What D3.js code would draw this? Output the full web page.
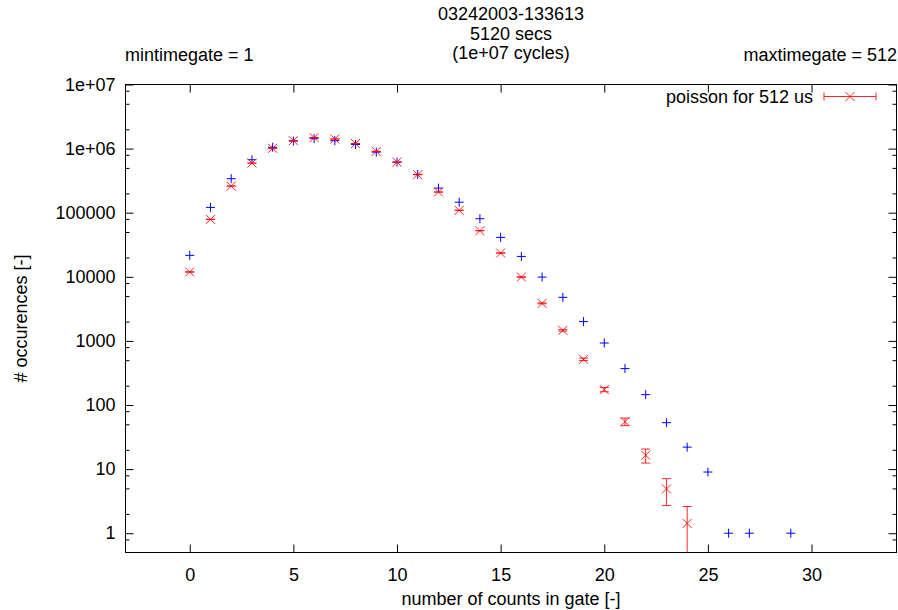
<!DOCTYPE html>
<html>
<head>
<meta charset="utf-8">
<script src="https://cdn.jsdelivr.net/npm/d3@7"></script>
<style>
  html, body { margin: 0; padding: 0; background: #fff; }
  svg { display: block; }
  text { font-family: "Liberation Sans", Arial, sans-serif; font-size: 18px; fill: #000; }
</style>
</head>
<body>
<svg id="chart" width="898" height="610"></svg>
<script>
// ---- data ----
const measuredCounts = [0,1,2,3,4,5,6,7,8,9,10,11,12,13,14,15,16,17,18,19,20,21,22,23,24,25,26,27,29];
const measuredValues = [21600,121000,339000,670000,1050000,1310000,1430000,1330000,1160000,881000,615000,396000,242000,146000,80600,41200,20800,9900,4780,2000,927,370,145,53,22,9,1,1,1];

const poissonCounts = [0,1,2,3,4,5,6,7,8,9,10,11,12,13,14,15,16,17,18,19,20,21,22,23,24];
const poissonValues = [11900,78700,260000,594000,1010000,1330000,1480000,1410000,1200000,903000,615000,392000,210000,109000,52400,23500,9900,3850,1460,516,174,55,16.5,4.9,1.42];
const poissonErrors = [109,281,510,771,1005,1153,1217,1187,1095,950,784,626,458,330,229,153,99.5,62,38,22.7,13.2,7.4,4.06,2.2,1.19];

const xTickValues = [0,5,10,15,20,25,30];
const yTickValues = [1,10,100,1000,10000,100000,1000000,10000000];
const yTickLabels = ["1","10","100","1000","10000","100000","1e+06","1e+07"];
const yMinorMultipliers = [2,5,8];

const titleLines = ["03242003-133613","5120 secs","(1e+07 cycles)"];
const leftNote = "mintimegate = 1";
const rightNote = "maxtimegate = 512";
const legendLabel = "poisson for 512 us";
const xLabel = "number of counts in gate [-]";
const yLabel = "# occurences [-]";

// ---- layout ----
const L = 125.5, R = 896.5, T = 84.5, B = 552.5;
const FS = 18;
const svg = d3.select("#chart");

const x = d3.scaleLinear().domain([-3.1, 34.1]).range([L, R]);
const y = d3.scaleLog().domain([0.5, 1e7]).range([B, T]);

const blue = "#0000ff", red = "#ff0000";

// minor y ticks
const minorVals = [];
for (let e = -1; e <= 6; e++) {
  yMinorMultipliers.forEach(m => {
    const v = m * Math.pow(10, e);
    if (v > 0.5 && v < 1e7) minorVals.push(v);
  });
}

// axes (inward ticks)
const gx = svg.append("g").attr("transform", `translate(0,${B})`)
  .call(d3.axisBottom(x).tickValues(xTickValues).tickFormat(d3.format("d")).tickSizeInner(-8).tickSizeOuter(0).tickPadding(16));
const gxTop = svg.append("g").attr("transform", `translate(0,${T})`)
  .call(d3.axisTop(x).tickValues(xTickValues).tickFormat("").tickSizeInner(-8).tickSizeOuter(0));
const gy = svg.append("g").attr("transform", `translate(${L},0)`)
  .call(d3.axisLeft(y).tickValues(yTickValues).tickFormat((d,i) => yTickLabels[i]).tickSizeInner(-8).tickSizeOuter(0).tickPadding(10));
const gyR = svg.append("g").attr("transform", `translate(${R},0)`)
  .call(d3.axisRight(y).tickValues(yTickValues).tickFormat("").tickSizeInner(-8).tickSizeOuter(0));
const gyMinL = svg.append("g").attr("transform", `translate(${L},0)`)
  .call(d3.axisLeft(y).tickValues(minorVals).tickFormat("").tickSizeInner(-4).tickSizeOuter(0));
const gyMinR = svg.append("g").attr("transform", `translate(${R},0)`)
  .call(d3.axisRight(y).tickValues(minorVals).tickFormat("").tickSizeInner(-4).tickSizeOuter(0));

[gx, gxTop, gy, gyR, gyMinL, gyMinR].forEach(g => {
  g.select(".domain").remove();
  g.selectAll("line").attr("stroke", "#000").attr("stroke-width", 1);
  g.selectAll("text").attr("font-family", "Liberation Sans, Arial, sans-serif").attr("font-size", FS).attr("fill", "#000");
});

// frame
svg.append("rect").attr("x", L).attr("y", T).attr("width", R - L).attr("height", B - T)
  .attr("fill", "none").attr("stroke", "#000").attr("stroke-width", 1);

// clip
svg.append("clipPath").attr("id", "plotclip").append("rect")
  .attr("x", L).attr("y", T).attr("width", R - L).attr("height", B - T);
const plot = svg.append("g").attr("clip-path", "url(#plotclip)");

const s = 4.5;
// measured: blue plus
const mg = plot.append("g").attr("stroke", blue).attr("stroke-width", 1).attr("fill", "none");
measuredCounts.forEach((c, i) => {
  const cx = x(c), cy = y(measuredValues[i]);
  mg.append("path").attr("d", `M${cx - s},${cy}H${cx + s}M${cx},${cy - s}V${cy + s}`);
});

// poisson: red x with error bars
const pg = plot.append("g").attr("stroke", red).attr("stroke-width", 1).attr("fill", "none").attr("stroke-opacity", 0.85);
poissonCounts.forEach((c, i) => {
  const v = poissonValues[i], e = poissonErrors[i];
  const cx = x(c), cy = y(v);
  const lo = v - e > 0 ? y(v - e) : B + 50;
  const hi = y(v + e);
  pg.append("path").attr("d", `M${cx},${lo}V${hi}M${cx - s},${lo}H${cx + s}M${cx - s},${hi}H${cx + s}`);
  pg.append("path").attr("d", `M${cx - s},${cy - s}L${cx + s},${cy + s}M${cx - s},${cy + s}L${cx + s},${cy - s}`);
});

// legend
const ly = 96.5;
svg.append("text").attr("x", 813).attr("y", ly + 6.5).attr("text-anchor", "end").text(legendLabel);
const lg = svg.append("g").attr("stroke", red).attr("stroke-width", 1).attr("fill", "none").attr("stroke-opacity", 0.85);
lg.append("path").attr("d", `M824,${ly}H876M824,${ly - 4}V${ly + 4}M876,${ly - 4}V${ly + 4}`);
lg.append("path").attr("d", `M${850 - s},${ly - s}L${850 + s},${ly + s}M${850 - s},${ly + s}L${850 + s},${ly - s}`);

// titles
const cxMid = (L + R) / 2;
titleLines.forEach((t, i) => {
  svg.append("text").attr("x", cxMid).attr("y", 20 + i * 19.7).attr("text-anchor", "middle")
    .attr("font-size", 17.5).text(t);
});
svg.append("text").attr("x", 125).attr("y", 61).text(leftNote);
svg.append("text").attr("x", 897).attr("y", 61).attr("text-anchor", "end").text(rightNote);

// axis labels
svg.append("text").attr("x", cxMid).attr("y", 604.5).attr("text-anchor", "middle").text(xLabel);
svg.append("text").attr("transform", `translate(27,${(T + B) / 2}) rotate(-90)`).attr("text-anchor", "middle").text(yLabel);
</script>
</body>
</html>
